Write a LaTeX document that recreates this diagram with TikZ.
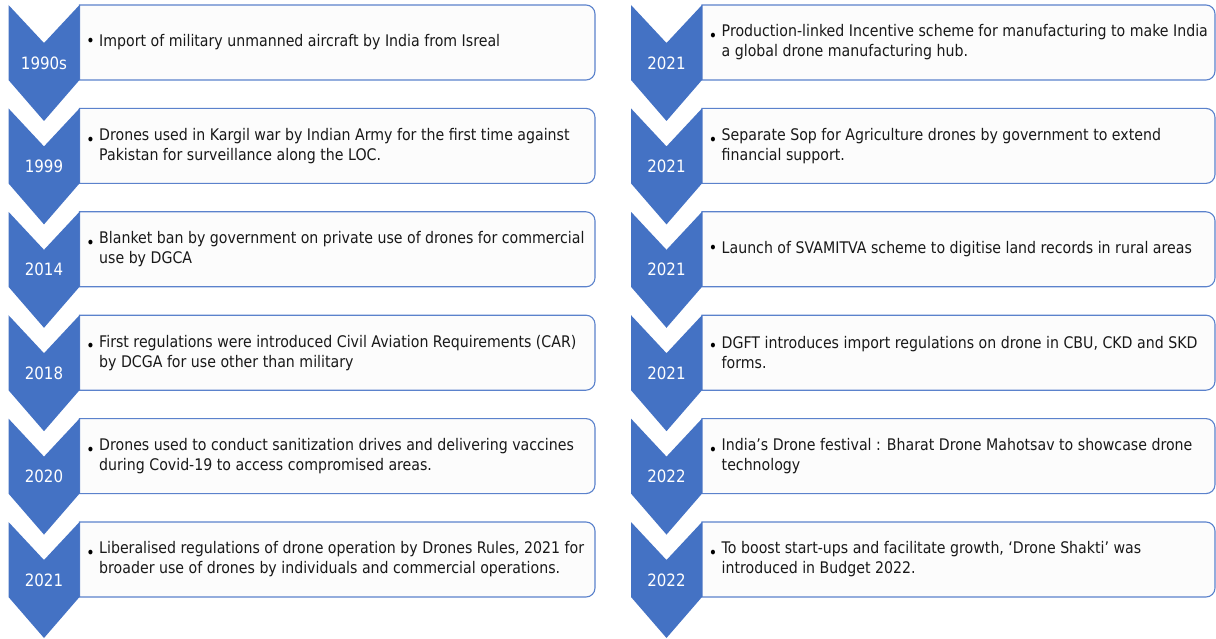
\documentclass[tikz,border=0pt]{standalone}
\usepackage{fontspec}
\setmainfont[FakeStretch=0.885]{DejaVu Sans}
\definecolor{chevblue}{HTML}{4472C4}
\definecolor{boxline}{HTML}{5B82CC}
\definecolor{boxfill}{HTML}{FCFCFC}
\newcommand\tlrow[7]{%
  % #1 name, #2 chevron left x, #3 box right x, #4 top y, #5 year, #6 text, #7 bullet
  \pgfmathsetmacro\cL{#2}\pgfmathsetmacro\cR{#2+71}\pgfmathsetmacro\cM{#2+35.5}%
  \pgfmathsetmacro\bR{#3}\pgfmathsetmacro\tT{#4}%
  \pgfmathsetmacro\tB{#4+75}\pgfmathsetmacro\tN{#4+38}\pgfmathsetmacro\tP{#4+116}%
  \pgfmathsetmacro\tC{#4+37.5}\pgfmathsetmacro\tY{#4+58}%
  \path[rowbox] (\cR,\tT) -- (\bR-9,\tT) arc[start angle=-90,end angle=0,radius=9]
     -- (\bR,\tB-9) arc[start angle=0,end angle=90,radius=9] -- (\cR,\tB) -- cycle;
  \path[chev] (\cL,\tT) -- (\cM,\tN) -- (\cR,\tT) -- (\cR,\tB) -- (\cM,\tP) -- (\cL,\tB) -- cycle;
  \node[yr] (#1y) at (\cM,\tY) {#5};
  \node[bul] (#1b) at (\cR+11,\tC) {#7};
  \node[txt] (#1t) at (\cR+19.5,\tC) {#6};
}
\begin{document}
\begin{tikzpicture}[x=1pt,y=-1pt,
  chev/.style={fill=chevblue,draw=none},
  rowbox/.style={draw=boxline,line width=1.1pt,fill=boxfill},
  yr/.style={text=white,font=\fontsize{17}{20}\selectfont,inner sep=0pt},
  bul/.style={font=\fontsize{16}{20}\selectfont,inner sep=0pt,anchor=center},
  txt/.style={anchor=west,align=left,font=\fontsize{16}{20}\selectfont,inner sep=0pt,text=black!90}]
\useasboundingbox (0,0) rectangle (1216,639);
% left column
\tlrow{l1}{8.5}{595}{5}{1990s}{Import of military unmanned aircraft by India from Isreal}{\textbullet}
\tlrow{l2}{8.5}{595}{108.4}{1999}{Drones used in Kargil war by Indian Army for the first time against\\Pakistan for surveillance along the LOC.}{\raisebox{10pt}{\textbullet}}
\tlrow{l3}{8.5}{595}{211.8}{2014}{Blanket ban by government on private use of drones for commercial\\use by DGCA}{\raisebox{10pt}{\textbullet}}
\tlrow{l4}{8.5}{595}{315.2}{2018}{First regulations were introduced Civil Aviation Requirements (CAR)\\by DCGA for use other than military}{\raisebox{10pt}{\textbullet}}
\tlrow{l5}{8.5}{595}{418.6}{2020}{Drones used to conduct sanitization drives and delivering vaccines\\during Covid-19 to access compromised areas.}{\raisebox{10pt}{\textbullet}}
\tlrow{l6}{8.5}{595}{522}{2021}{Liberalised regulations of drone operation by Drones Rules, 2021 for\\broader use of drones by individuals and commercial operations.}{\raisebox{10pt}{\textbullet}}
% right column
\tlrow{r1}{631}{1215}{5}{2021}{Production-linked Incentive scheme for manufacturing to make India\\a global drone manufacturing hub.}{\raisebox{10pt}{\textbullet}}
\tlrow{r2}{631}{1215}{108.4}{2021}{Separate Sop for Agriculture drones by government to extend\\financial support.}{\raisebox{10pt}{\textbullet}}
\tlrow{r3}{631}{1215}{211.8}{2021}{Launch of SVAMITVA scheme to digitise land records in rural areas}{\textbullet}
\tlrow{r4}{631}{1215}{315.2}{2021}{DGFT introduces import regulations on drone in CBU, CKD and SKD\\forms.}{\raisebox{10pt}{\textbullet}}
\tlrow{r5}{631}{1215}{418.6}{2022}{India’s Drone festival : Bharat Drone Mahotsav to showcase drone\\technology}{\raisebox{10pt}{\textbullet}}
\tlrow{r6}{631}{1215}{522}{2022}{To boost start-ups and facilitate growth, ‘Drone Shakti’ was\\introduced in Budget 2022.}{\raisebox{10pt}{\textbullet}}
\end{tikzpicture}
\end{document}
